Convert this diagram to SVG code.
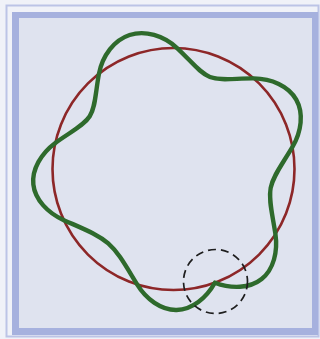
<svg xmlns="http://www.w3.org/2000/svg" width="320" height="339" viewBox="0 0 320 339">
<style>
.bg{fill:#f0f2f8}
.outer{fill:none;stroke:#bcc4e6;stroke-width:2}
.band{fill:#a6b1de}
.inner{fill:#dfe3ef}
.orbit{fill:none;stroke:#8d2728;stroke-width:2.6}
.wave{fill:none;stroke:#2e6a2c;stroke-width:4.4;stroke-linejoin:round;stroke-linecap:round}
.mark{fill:none;stroke:#1e1e1e;stroke-width:1.7;stroke-dasharray:8 5}
</style>
<rect class="bg" x="0" y="0" width="320" height="339"/>
<rect class="outer" x="6.5" y="5.5" width="312" height="331"/>
<rect class="band" x="12" y="12" width="306" height="323"/>
<rect class="inner" x="19" y="18" width="293" height="310"/>
<g id="orbit">
<circle class="orbit" cx="173.5" cy="169" r="121"/>
</g>
<g id="wave">
<path class="wave" d="M214.88,282.70 C206.39,297.98 191.96,309.64 176.58,309.97 C161.20,310.30 146.26,299.29 137.11,284.40 C125.52,265.53 118.52,252.45 108.23,243.43 C97.94,234.41 84.06,229.16 63.84,220.14 C47.92,213.04 35.03,199.72 33.35,184.47 C31.67,169.22 41.34,153.43 55.32,143.02 C70.13,132.00 83.65,125.89 89.73,116.24 C95.81,106.59 95.46,91.76 99.00,73.65 C102.55,55.49 114.11,40.09 129.58,35.02 C145.05,29.95 163.48,35.51 177.09,48.05 C190.73,60.62 199.28,72.73 209.94,76.95 C220.60,81.17 235.12,78.19 253.67,78.37 C271.37,78.54 288.56,86.01 296.23,99.57 C303.90,113.13 301.45,131.69 292.48,146.95 C282.30,164.27 273.05,175.70 270.68,187.89 C268.31,200.08 272.52,214.31 275.44,234.19 C277.97,251.44 273.62,269.45 261.65,279.04 C249.68,288.63 231.16,288.93 214.88,282.70"/>
</g>
<g id="marker">
<circle class="mark" cx="215.5" cy="281.5" r="32"/>
</g>
</svg>
